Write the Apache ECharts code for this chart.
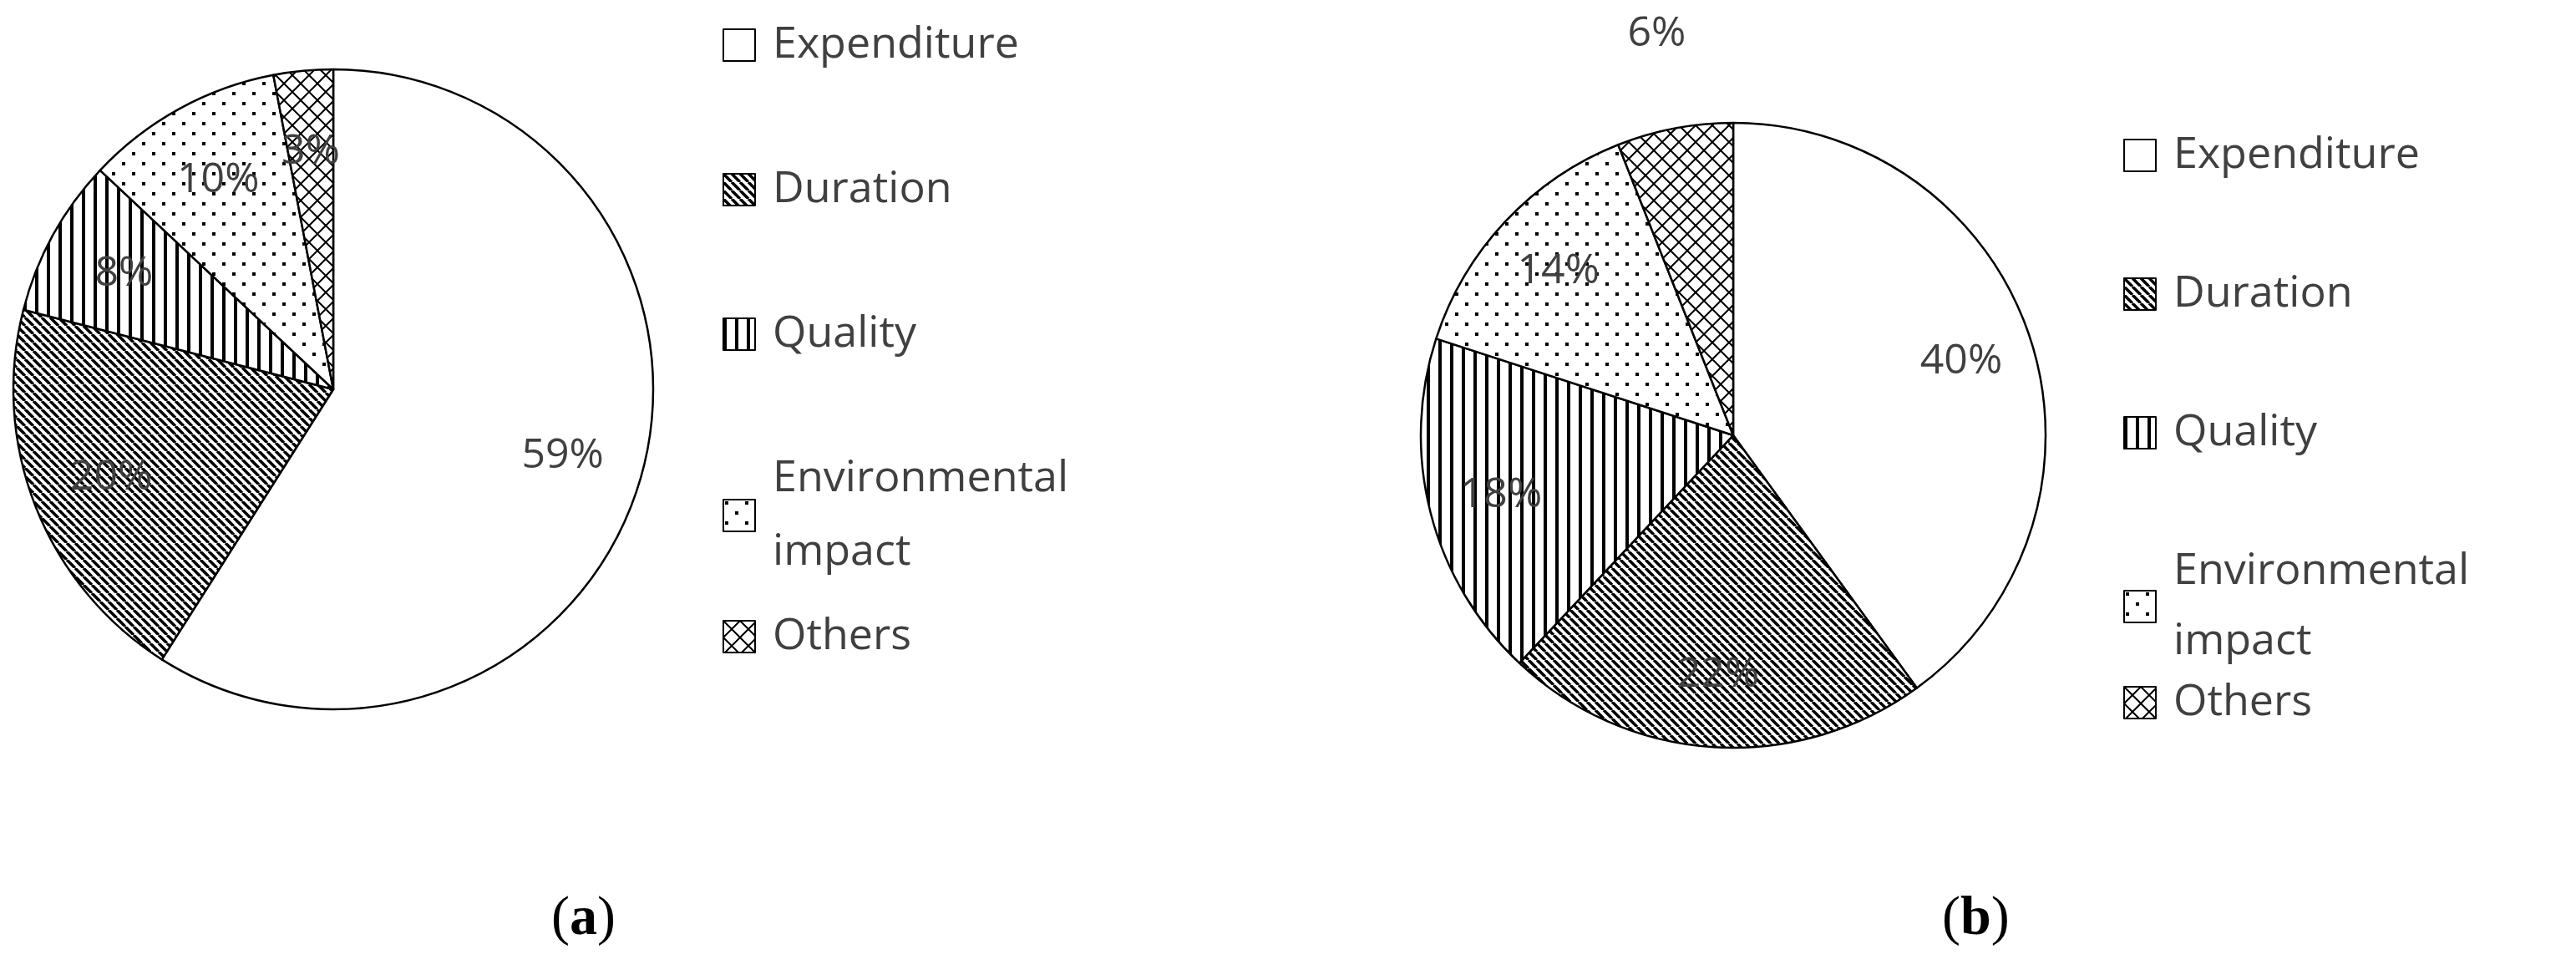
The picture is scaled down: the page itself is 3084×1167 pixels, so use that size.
<!DOCTYPE html>
<html><head><meta charset="utf-8">
<script src="https://cdn.jsdelivr.net/npm/echarts@6/dist/echarts.min.js"></script>
<style>html,body{margin:0;background:#fff}#c{width:3084px;height:1167px}</style>
</head><body><div id="c"></div>
<script>
const categories = ['Expenditure', 'Duration', 'Quality', 'Environmental\nimpact', 'Others'];
const valuesA = [59, 20, 8, 10, 3];
const valuesB = [40, 22, 18, 14, 6];
const panelLetters = ['a', 'b'];

function pat(kind) {
  const c = document.createElement('canvas');
  const s = kind === 'dots' ? 24 : (kind === 'cross' ? 20 : (kind === 'vert' ? 14 : 10));
  c.width = s; c.height = s;
  const g = c.getContext('2d');
  g.fillStyle = '#fff'; g.fillRect(0, 0, s, s);
  g.strokeStyle = '#000'; g.fillStyle = '#000'; g.lineWidth = 3;
  if (kind === 'diag') {
    g.lineWidth = 3.5;
    for (let o = -s; o <= 2 * s; o += s) { g.beginPath(); g.moveTo(o, 0); g.lineTo(o + s, s); g.stroke(); }
  } else if (kind === 'vert') {
    g.fillRect(0, 0, 4, s);
  } else if (kind === 'dots') {
    g.fillRect(2, 2, 4, 4); g.fillRect(14, 14, 4, 4);
  } else if (kind === 'cross') {
    g.lineWidth = 2;
    g.beginPath(); g.moveTo(0, 0); g.lineTo(s, s); g.moveTo(s, 0); g.lineTo(0, s); g.stroke();
  }
  return c;
}
const fills = ['#ffffff', {image: pat('diag'), repeat: 'repeat'}, {image: pat('vert'), repeat: 'repeat'},
  {image: pat('dots'), repeat: 'repeat'}, {image: pat('cross'), repeat: 'repeat'}];

const txt = '#404040';
const font = 'Open Sans, DejaVu Sans, sans-serif';

function mainSeries(vals, center, r) {
  return {
    type: 'pie', center: center, radius: r, startAngle: 90, clockwise: true, silent: true,
    label: {show: false}, labelLine: {show: false},
    itemStyle: {borderColor: '#000', borderWidth: 2.5},
    data: vals.map((v, i) => ({name: categories[i], value: v, itemStyle: {color: fills[i]}}))
  };
}
function labelSeries(vals, center, r, showIdx) {
  return {
    type: 'pie', center: center, radius: r, startAngle: 90, clockwise: true, silent: true,
    legendHoverLink: false,
    itemStyle: {color: 'rgba(0,0,0,0)', borderWidth: 0},
    label: {show: true, position: 'inside', formatter: '{c}%', color: txt, fontSize: 50, fontFamily: font},
    labelLine: {show: false},
    data: vals.map((v, i) => ({name: 'l' + i, value: v, label: {show: showIdx.includes(i)}}))
  };
}

const chart = echarts.init(document.getElementById('c'));
function legend(data, left, top, gap, lh) {
  return {
    orient: 'vertical', itemWidth: 38, itemHeight: 38, icon: 'rect', left: left, top: top, itemGap: gap,
    textStyle: {color: txt, fontSize: 52, fontFamily: font, lineHeight: lh, padding: [0, 0, 0, 16]},
    itemStyle: {borderColor: '#000', borderWidth: 2},
    data: data
  };
}
chart.setOption({
  animation: false,
  legend: [
    legend(categories.slice(0, 4), 860, 5, 85, 88),
    legend(categories.slice(4), 860, 713, 85, 88),
    legend(categories.slice(0, 4), 2537, 139, 82, 84),
    legend(categories.slice(4), 2537, 794, 82, 84)
  ],
  series: [
    mainSeries(valuesA, [399, 466], 383),
    labelSeries(valuesA, [399, 466], 566, [0, 1, 2, 3, 4]),
    mainSeries(valuesB, [2075, 521], 374),
    labelSeries(valuesB, [2075, 521], 568, [0, 1, 2, 3]),
    labelSeries(valuesB, [2075, 521], 972, [4])
  ],
  graphic: [
    {type: 'text', left: 660, top: 1068, style: {text: '({b|' + panelLetters[0] + '})', fontSize: 66, fontFamily: 'Liberation Serif, serif', fill: '#000', rich: {b: {fontSize: 66, fontWeight: 'bold', fontFamily: 'Liberation Serif, serif'}}}},
    {type: 'text', left: 2325, top: 1068, style: {text: '({b|' + panelLetters[1] + '})', fontSize: 66, fontFamily: 'Liberation Serif, serif', fill: '#000', rich: {b: {fontSize: 66, fontWeight: 'bold', fontFamily: 'Liberation Serif, serif'}}}}
  ]
});
</script></body></html>
